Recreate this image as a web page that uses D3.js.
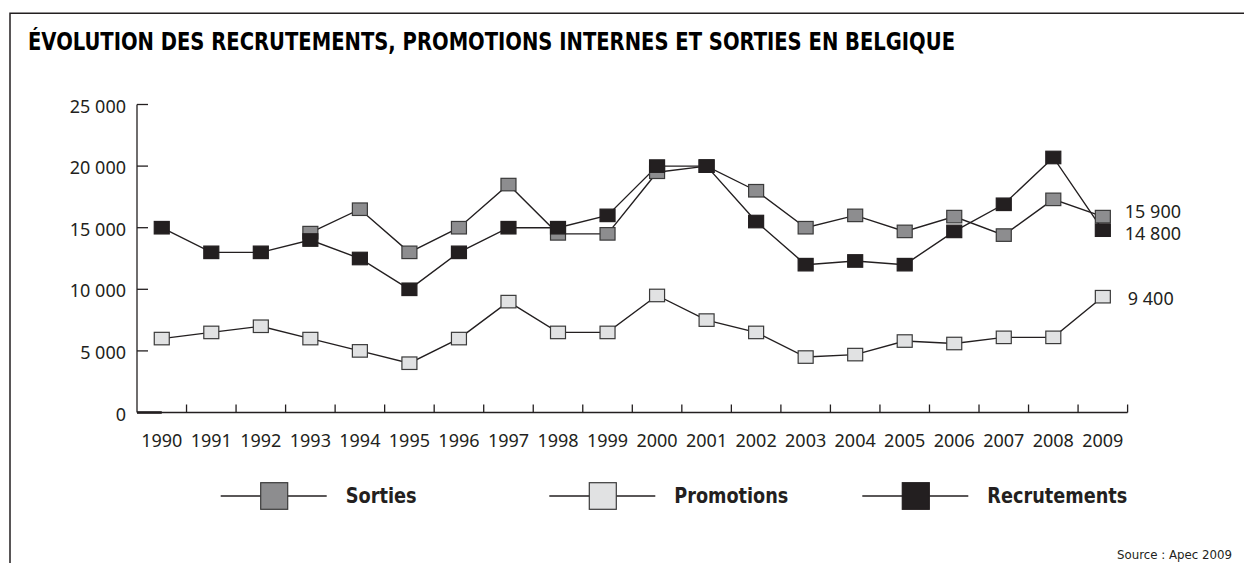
<!DOCTYPE html>
<html>
<head>
<meta charset="utf-8">
<script src="https://cdn.jsdelivr.net/npm/d3@7"></script>
<style>
  html, body { margin: 0; padding: 0; background: #fff; }
  svg { display: block; }
</style>
</head>
<body>
<script>
// ---------- DATA ----------
const years = ["1990","1991","1992","1993","1994","1995","1996","1997","1998","1999",
               "2000","2001","2002","2003","2004","2005","2006","2007","2008","2009"];
const sorties = [null, null, null, 14600, 16500, 13000, 15000, 18500, 14500, 14500,
                 19500, 20000, 18000, 15000, 16000, 14700, 15900, 14400, 17300, 15900];
const promotions = [6000, 6500, 7000, 6000, 5000, 4000, 6000, 9000, 6500, 6500,
                    9500, 7500, 6500, 4500, 4700, 5800, 5600, 6100, 6100, 9400];
const recrutements = [15000, 13000, 13000, 14000, 12500, 10000, 13000, 15000, 15000, 16000,
                      20000, 20000, 15500, 12000, 12300, 12000, 14700, 16900, 20700, 14800];
const yTicks = [0, 5000, 10000, 15000, 20000, 25000];
const seriesNames = ["Sorties", "Promotions", "Recrutements"];
const endLabels = ["15 900", "9 400", "14 800"];
const title = "ÉVOLUTION DES RECRUTEMENTS, PROMOTIONS INTERNES ET SORTIES EN BELGIQUE";
const source = "Source : Apec 2009";

// ---------- STYLE / LAYOUT ----------
const W = 1244, H = 563;
const ink = "#231f20";
const fills = { "Sorties": "#8d8d8f", "Promotions": "#e1e2e3", "Recrutements": "#231f20" };
const strokes = { "Sorties": "#3a3a3a", "Promotions": "#3a3a3a", "Recrutements": "#231f20" };
const axisFont = "'Noto Sans', sans-serif";
const boldFont = "'DejaVu Sans Condensed', 'DejaVu Sans', sans-serif";
const fmt = v => d3.format(",")(v).replace(/,/g, " ");

const svg = d3.select("body").append("svg").attr("width", W).attr("height", H);

// frame
svg.append("path").attr("d", `M10,${H} V13.3 H${W}`)
  .attr("fill", "none").attr("stroke", ink).attr("stroke-width", 1.5);

// title
svg.append("text").attr("x", 28).attr("y", 50)
  .attr("font-family", boldFont).attr("font-weight", "bold").attr("font-size", 24)
  .attr("fill", "#000").attr("textLength", 927).attr("lengthAdjust", "spacingAndGlyphs")
  .text(title);

// scales
const x = d3.scaleBand().domain(years).range([137, 1127.6]).padding(0);
const y = d3.scaleLinear().domain([0, 25000]).range([412.5, 104.5]);
const cx = d => x(d) + x.bandwidth() / 2;

// y axis
const yAxis = svg.append("g");
yAxis.append("line").attr("x1", 137).attr("x2", 137).attr("y1", y(25000)).attr("y2", y(0))
  .attr("stroke", ink).attr("stroke-width", 1.3);
yAxis.selectAll("line.t").data(yTicks.filter(v => v > 0)).join("line").attr("class", "t")
  .attr("x1", 137).attr("x2", 148).attr("y1", d => y(d)).attr("y2", d => y(d))
  .attr("stroke", ink).attr("stroke-width", 1.3);
yAxis.selectAll("text").data(yTicks).join("text")
  .attr("x", 126).attr("y", d => y(d) + 1).attr("text-anchor", "end")
  .attr("dominant-baseline", "central")
  .attr("font-family", axisFont).attr("font-size", 18).attr("fill", ink)
  .text(d => fmt(d));

// x axis
const xAxis = svg.append("g");
xAxis.append("line").attr("x1", 137).attr("x2", x.range()[1]).attr("y1", y(0)).attr("y2", y(0))
  .attr("stroke", ink).attr("stroke-width", 1.3);
xAxis.append("line").attr("x1", 137).attr("x2", cx(years[0])).attr("y1", y(0)).attr("y2", y(0))
  .attr("stroke", ink).attr("stroke-width", 2.6);
xAxis.selectAll("line.t").data(years).join("line").attr("class", "t")
  .attr("x1", d => x(d) + x.bandwidth()).attr("x2", d => x(d) + x.bandwidth())
  .attr("y1", y(0) - 8).attr("y2", y(0))
  .attr("stroke", ink).attr("stroke-width", 1.3);
xAxis.selectAll("text").data(years).join("text")
  .attr("x", d => cx(d)).attr("y", 440).attr("text-anchor", "middle")
  .attr("dominant-baseline", "central")
  .attr("font-family", axisFont).attr("font-size", 18).attr("fill", ink)
  .text(d => d);

// series
const seriesData = {
  "Sorties": sorties, "Promotions": promotions, "Recrutements": recrutements
};
const line = d3.line().defined(d => d.v != null).x(d => cx(d.year)).y(d => y(d.v));
const rows = name => years.map((yr, i) => ({ year: yr, v: seriesData[name][i] }));

const drawOrder = ["Promotions", "Sorties", "Recrutements"];
drawOrder.forEach(name => {
  svg.append("path").datum(rows(name)).attr("d", line)
    .attr("fill", "none").attr("stroke", ink).attr("stroke-width", 1.4);
});
const mw = 15, mh = 12.5;
drawOrder.forEach(name => {
  svg.append("g").selectAll("rect").data(rows(name).filter(d => d.v != null)).join("rect")
    .attr("x", d => cx(d.year) - mw / 2).attr("y", d => y(d.v) - mh / 2)
    .attr("width", mw).attr("height", mh)
    .attr("fill", fills[name]).attr("stroke", strokes[name]).attr("stroke-width", 1.2);
});

// end labels
const last = years[years.length - 1];
const endOffsets = { "Sorties": [22, -6], "Promotions": [25, 1.5], "Recrutements": [22, 3] };
seriesNames.forEach((name, i) => {
  const v = seriesData[name][years.length - 1];
  svg.append("text")
    .attr("x", cx(last) + endOffsets[name][0]).attr("y", y(v) + endOffsets[name][1])
    .attr("dominant-baseline", "central")
    .attr("font-family", axisFont).attr("font-size", 18).attr("fill", ink)
    .text(endLabels[i]);
});

// legend
const legendX = [220.7, 549.3, 862.3];
const legendTextW = [71, 114, 140];
const ly = 496;
seriesNames.forEach((name, i) => {
  const g = svg.append("g").attr("transform", `translate(${legendX[i]},${ly})`);
  g.append("line").attr("x1", 0).attr("x2", 106).attr("y1", 0).attr("y2", 0)
    .attr("stroke", ink).attr("stroke-width", 1.4);
  g.append("rect").attr("x", 40).attr("y", -13.3).attr("width", 27).attr("height", 26.6)
    .attr("fill", fills[name]).attr("stroke", strokes[name]).attr("stroke-width", 1.2);
  g.append("text").attr("x", 125).attr("y", 0).attr("dominant-baseline", "central")
    .attr("font-family", boldFont).attr("font-weight", "bold").attr("font-size", 21)
    .attr("fill", ink).attr("textLength", legendTextW[i]).attr("lengthAdjust", "spacingAndGlyphs")
    .text(name);
});

// source
svg.append("text").attr("x", 1117).attr("y", 555).attr("dominant-baseline", "central")
  .attr("font-family", boldFont).attr("font-size", 12).attr("fill", ink)
  .attr("textLength", 115).attr("lengthAdjust", "spacingAndGlyphs")
  .text(source);
</script>
</body>
</html>
